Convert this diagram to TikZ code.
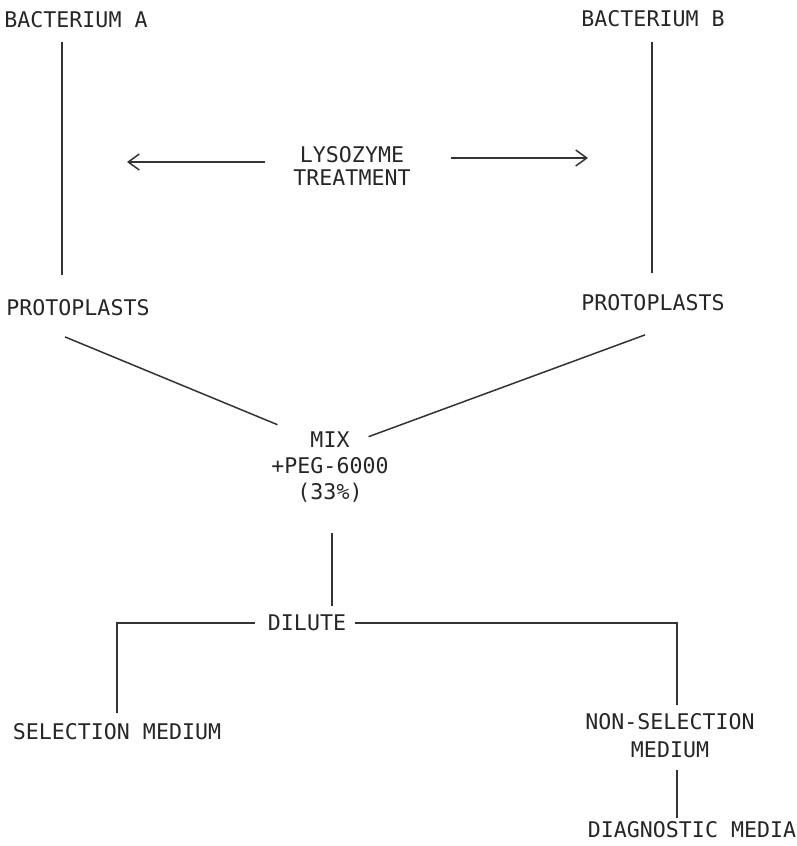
\documentclass[tikz,border=0pt]{standalone}
\usepackage{fontspec}
\usepackage{tikz}
\usetikzlibrary{arrows.meta}
\newfontfamily\typefont{DejaVu Sans Mono}

\begin{document}
\begin{tikzpicture}[x=0.5pt,y=-0.5pt,
  lbl/.style={font=\typefont\fontsize{10.8}{13}\selectfont,inner sep=0pt,outer sep=0pt,text height=7.9pt,text depth=0pt,text=black!85},
  blk/.style={inner sep=0pt,outer sep=0pt,align=center,text=black!85},
  ln/.style={line width=0.75pt,black!80},
  arr/.style={line width=0.75pt,black!80,-{Straight Barb[length=5.5pt,width=8pt]}}]
  \useasboundingbox (0,0) rectangle (797,846);

  \node[lbl] (bacA) at (76,20) {BACTERIUM A};
  \node[lbl] (bacB) at (653,19) {BACTERIUM B};
  \node[blk,font=\typefont\fontsize{10.8}{11.5}\selectfont] (lyso) at (352,166) {LYSOZYME\\TREATMENT};
  \coordinate (lysoL) at (127,162);
  \coordinate (lysoR) at (588,158);
  \node[lbl] (protoA) at (78,308) {PROTOPLASTS};
  \node[lbl] (protoB) at (653,303) {PROTOPLASTS};
  \node[blk,font=\typefont\fontsize{10.8}{13}\selectfont] (mix) at (330,467) {MIX\\+PEG-6000\\(33\%)};
  \node[lbl] (dilute) at (307,623) {DILUTE};
  \node[lbl] (sel) at (117,732) {SELECTION MEDIUM};
  \node[blk,font=\typefont\fontsize{10.8}{14}\selectfont] (nonsel) at (670,736) {NON-SELECTION\\MEDIUM};
  \node[lbl] (diag) at (692,830) {DIAGNOSTIC MEDIA};

  \draw[ln,shorten <=7pt,shorten >=12.5pt] ([xshift=-7pt]bacA.south) -- ([xshift=-8pt]protoA.north);
  \draw[ln,shorten <=7.5pt,shorten >=11pt] ([xshift=-0.5pt]bacB.south) -- ([xshift=-0.5pt]protoB.north);
  \draw[arr,shorten <=14pt] (lysoL -| lyso.west) -- (lysoL);
  \draw[arr,shorten <=20pt] (lysoR -| lyso.east) -- (lysoR);

  \draw[ln] ([shift={(-6.5pt,-10.5pt)}]protoA.south) -- ([shift={(3pt,3.5pt)}]mix.north west);
  \draw[ln] ([shift={(-4pt,-12pt)}]protoB.south) -- ([shift={(-10pt,-2.5pt)}]mix.north east);
  \draw[ln,shorten <=15.5pt,shorten >=4.5pt] ([xshift=1pt]mix.south) -- ([xshift=12.5pt]dilute.north);

  \draw[ln,shorten <=6.5pt,shorten >=5.5pt] (dilute.west) -| (sel.north);
  \draw[ln,shorten <=4.5pt,shorten >=4.5pt] (dilute.east) -| ([xshift=3.5pt]nonsel.north);
  \draw[ln,shorten <=6pt,shorten >=2pt] ([xshift=3.5pt]nonsel.south) -- ([xshift=-7.5pt]diag.north);
\end{tikzpicture}
\end{document}
